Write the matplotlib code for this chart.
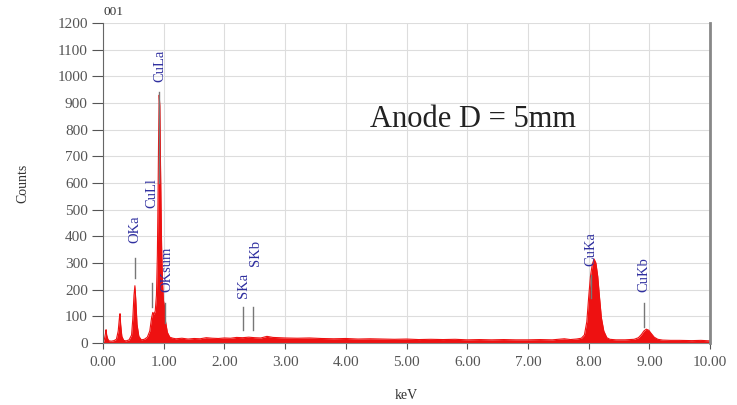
"""
EDS spectrum of the anode sample (D = 5 mm).

Saves out.png
"""

from matplotlib import pyplot as plt
from matplotlib.ticker import FuncFormatter

# spectrum (keV, counts)
energy = [
    0.00, 0.02, 0.04, 0.05, 0.06, 0.08, 0.10, 0.14, 0.18, 0.22, 0.25, 0.27,
    0.28, 0.29, 0.31, 0.34, 0.38, 0.43, 0.47, 0.49, 0.51, 0.525, 0.54, 0.56,
    0.59, 0.63, 0.68, 0.73, 0.77, 0.80, 0.82, 0.84, 0.86, 0.88, 0.895, 0.905,
    0.915, 0.925, 0.935, 0.945, 0.955, 0.965, 0.98, 0.995, 1.01, 1.03, 1.06,
    1.10, 1.15, 1.20, 1.30, 1.40, 1.50, 1.60, 1.70, 1.80, 1.90, 2.00, 2.10,
    2.20, 2.30, 2.40, 2.50, 2.60, 2.70, 2.80, 2.90, 3.00, 3.20, 3.40, 3.60,
    3.80, 4.00, 4.20, 4.40, 4.60, 4.80, 5.00, 5.20, 5.40, 5.60, 5.80, 6.00,
    6.20, 6.40, 6.60, 6.80, 7.00, 7.20, 7.40, 7.50, 7.60, 7.70, 7.80, 7.88,
    7.93, 7.97, 8.00, 8.03, 8.06, 8.09, 8.12, 8.15, 8.18, 8.21, 8.25, 8.30,
    8.35, 8.45, 8.60, 8.75, 8.82, 8.87, 8.91, 8.95, 8.99, 9.03, 9.08, 9.14,
    9.22, 9.35, 9.50, 9.70, 9.85, 10.00,
]
counts = [
    0, 12, 35, 50, 30, 14, 8, 7, 9, 14, 45, 95,
    110, 70, 25, 10, 8, 12, 30, 90, 180, 215, 160, 70,
    25, 12, 14, 22, 45, 95, 115, 108, 120, 180, 330, 520,
    760, 930, 890, 700, 520, 360, 230, 160, 140, 80, 40,
    22, 18, 16, 18, 15, 17, 16, 20, 18, 17, 19, 18,
    21, 20, 22, 20, 19, 25, 21, 20, 19, 18, 19, 17,
    16, 17, 15, 16, 15, 14, 15, 13, 14, 13, 14, 12,
    13, 12, 13, 12, 12, 13, 12, 14, 16, 13, 15, 18,
    30, 80, 170, 250, 295, 315, 300, 250, 170, 95, 45, 20,
    14, 12, 12, 14, 20, 32, 45, 52, 48, 36, 22, 14,
    11, 10, 10, 9, 10, 8,
]

# peak markers: label, keV, marker line (from, to), label bottom
peak_names = ['OKa', 'CuLl', 'CuLa', 'OKsum', 'SKa', 'SKb', 'CuKa', 'CuKb']
peak_kev = [0.52, 0.81, 0.93, 1.02, 2.31, 2.47, 8.04, 8.91]
line_lo = [245, 135, 600, 75, 50, 50, 170, 60]
line_hi = [320, 225, 940, 150, 135, 135, 255, 150]
label_y = [375, 505, 980, 190, 170, 290, 290, 190]
label_dx = [0.0, 0.0, 0.0, 0.04, 0.0, 0.04, 0.0, 0.0]

y_ticks = list(range(0, 1300, 100))
x_ticks = list(range(0, 11))

serif = 'Liberation Serif'
tick_grey = '#555555'
peak_blue = '#2f2f9f'
red = '#ee1111'

fig = plt.figure(figsize=(7.37, 4.05), dpi=100)
ax = fig.add_axes([0.1398, 0.153, 0.8236, 0.79])

ax.fill_between(energy, counts, color=red, linewidth=0)
ax.plot(energy, counts, color=red, linewidth=0.8)

for name, kev, lo, hi, ly, dx in zip(
    peak_names, peak_kev, line_lo, line_hi, label_y, label_dx
):
    ax.plot([kev, kev], [lo, hi], color='#777777', linewidth=1.0)
    ax.text(kev + dx, ly, name, rotation=90, ha='center', va='bottom',
            color=peak_blue, fontsize=10.5, family=serif)

ax.set_xlim(0, 10)
ax.set_ylim(0, 1200)
ax.set_xticks(x_ticks)
ax.set_yticks(y_ticks)
ax.xaxis.set_major_formatter(FuncFormatter(lambda v, pos: '{0:.2f}'.format(v)))
ax.grid(True, color='#dddddd', linewidth=0.8)
ax.set_axisbelow(True)

ax.spines['top'].set_visible(False)
ax.spines['left'].set_color('#666666')
ax.spines['bottom'].set_color('#888888')
ax.spines['right'].set_color('#888888')
ax.spines['right'].set_linewidth(2)

ax.tick_params(axis='both', direction='out', colors=tick_grey, labelsize=11)
ax.tick_params(axis='y', length=8, pad=3)
ax.tick_params(axis='x', length=4, pad=5)
for lab in ax.get_xticklabels() + ax.get_yticklabels():
    lab.set_family(serif)

ax.set_xlabel('keV', family=serif, fontsize=10, color='#333333', labelpad=15)
ax.set_ylabel('Counts', family=serif, fontsize=10, color='#333333', labelpad=20)
ax.text(0.0, 1.015, '001', transform=ax.transAxes, family=serif,
        fontsize=9.5, color='#333333', va='bottom')
ax.text(0.44, 0.70, 'Anode D = 5mm', transform=ax.transAxes, family=serif,
        fontsize=22, color='#222222', ha='left', va='center')

plt.savefig('out.png', dpi=100)
